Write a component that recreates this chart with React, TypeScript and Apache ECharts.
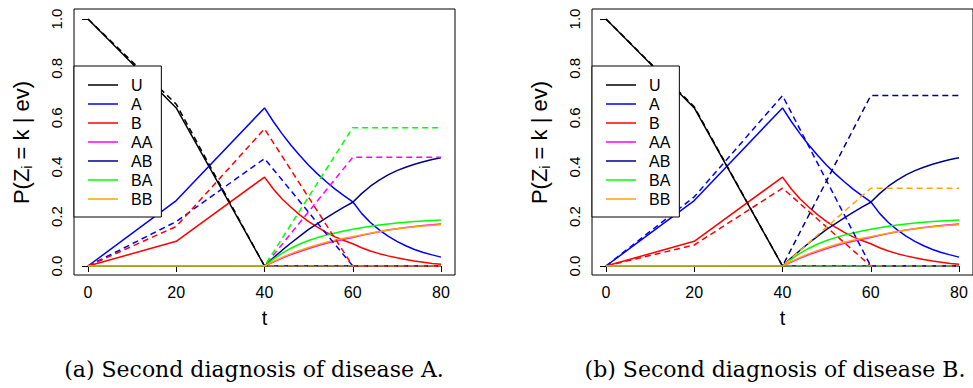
import React, { useEffect, useRef } from "react";
import * as echarts from "echarts";

// ---- data ----
const stateNames = ["U", "A", "B", "AA", "AB", "BA", "BB"];
const stateColors = ["#000000", "#0000FF", "#FF0000", "#FF00FF", "#00008B", "#00FF00", "#FFA500"];

// time grid for the solid (observed) curves
const tSolid = [0, 20, 40, 42, 44, 46, 48, 50, 52, 54, 56, 58, 60, 62, 64, 66, 68, 70, 72, 74, 76, 78, 80];
const solidU = [1, 0.64, 0, 0, 0, 0, 0, 0, 0, 0, 0, 0, 0, 0, 0, 0, 0, 0, 0, 0, 0, 0, 0];
const solidA = [0, 0.265, 0.64, 0.585, 0.535, 0.489, 0.447, 0.408, 0.373, 0.341, 0.311, 0.285, 0.26, 0.213, 0.176, 0.146, 0.121, 0.1, 0.082, 0.067, 0.055, 0.045, 0.036];
const solidB = [0, 0.1, 0.36, 0.312, 0.271, 0.238, 0.207, 0.18, 0.157, 0.136, 0.118, 0.103, 0.09, 0.074, 0.061, 0.05, 0.041, 0.033, 0.026, 0.02, 0.015, 0.01, 0.007];
const solidAA = [0, 0, 0, 0.016, 0.032, 0.046, 0.059, 0.071, 0.082, 0.092, 0.1, 0.108, 0.115, 0.124, 0.132, 0.139, 0.146, 0.151, 0.156, 0.16, 0.164, 0.167, 0.17];
const solidAB = [0, 0, 0, 0.033, 0.064, 0.093, 0.121, 0.148, 0.172, 0.195, 0.217, 0.238, 0.258, 0.293, 0.323, 0.348, 0.369, 0.386, 0.4, 0.412, 0.422, 0.431, 0.438];
const solidBA = [0, 0, 0, 0.028, 0.052, 0.072, 0.089, 0.103, 0.115, 0.125, 0.134, 0.142, 0.149, 0.155, 0.161, 0.166, 0.17, 0.174, 0.177, 0.18, 0.182, 0.184, 0.186];
const solidBB = [0, 0, 0, 0.018, 0.035, 0.05, 0.063, 0.075, 0.086, 0.096, 0.104, 0.112, 0.118, 0.126, 0.133, 0.14, 0.146, 0.151, 0.155, 0.159, 0.162, 0.165, 0.167];
const solidAll = [solidU, solidA, solidB, solidAA, solidAB, solidBA, solidBB];

// time grid for the dashed (predicted) curves
const tDash = [0, 20, 40, 60, 80];
// panel (a): second diagnosis of disease A
const dashA_U = [1, 0.655, 0, 0, 0];
const dashA_A = [0, 0.18, 0.435, 0, 0];
const dashA_B = [0, 0.16, 0.555, 0, 0];
const dashA_AA = [0, 0, 0, 0.44, 0.44];
const dashA_AB = [0, 0, 0, 0, 0];
const dashA_BA = [0, 0, 0, 0.56, 0.56];
const dashA_BB = [0, 0, 0, 0, 0];
const dashPanelA = [dashA_U, dashA_A, dashA_B, dashA_AA, dashA_AB, dashA_BA, dashA_BB];
// panel (b): second diagnosis of disease B
const dashB_U = [1, 0.645, 0, 0, 0];
const dashB_A = [0, 0.28, 0.69, 0, 0];
const dashB_B = [0, 0.085, 0.315, 0, 0];
const dashB_AA = [0, 0, 0, 0, 0];
const dashB_AB = [0, 0, 0, 0.69, 0.69];
const dashB_BA = [0, 0, 0, 0, 0];
const dashB_BB = [0, 0, 0, 0.315, 0.315];
const dashPanelB = [dashB_U, dashB_A, dashB_B, dashB_AA, dashB_AB, dashB_BA, dashB_BB];

const xTicks = [0, 20, 40, 60, 80];
const yTicks = [0, 0.2, 0.4, 0.6, 0.8, 1.0];
const captions = ["(a) Second diagnosis of disease A.", "(b) Second diagnosis of disease B."];
const xTitle = "t";

const SANS = "Liberation Sans, Arial, sans-serif";
const SERIF = "DejaVu Serif, Liberation Serif, serif";

export default function App() {
  const ref = useRef<HTMLDivElement>(null);
  useEffect(() => {
    if (!ref.current) return;
    const chart = echarts.init(ref.current, null, { renderer: "svg" });

    const panels = [
      { boxLeft: 74, dataLeft: 88, dash: dashPanelA },
      { boxLeft: 592, dataLeft: 606, dash: dashPanelB },
    ];
    const boxTop = 9, boxH = 266, boxW = 381;
    const dataTop = 19, dataH = 247, dataW = 353;

    const grid: any[] = [];
    const xAxis: any[] = [];
    const yAxis: any[] = [];
    const series: any[] = [];
    const legend: any[] = [];

    panels.forEach((p, pi) => {
      // box grid
      grid.push({ left: p.boxLeft, top: boxTop, width: boxW, height: boxH, show: true, borderColor: "#000", borderWidth: 1, backgroundColor: "transparent" });
      xAxis.push({ gridIndex: pi * 2, type: "value", show: false, min: 0, max: 1 });
      yAxis.push({ gridIndex: pi * 2, type: "value", show: false, min: 0, max: 1 });
      // data grid
      grid.push({ left: p.dataLeft, top: dataTop, width: dataW, height: dataH, show: false });
      xAxis.push({
        gridIndex: pi * 2 + 1, type: "value", min: xTicks[0], max: xTicks[xTicks.length - 1], interval: 20,
        position: "bottom", offset: 9,
        axisLine: { show: false }, splitLine: { show: false },
        axisTick: { show: true, length: 6, lineStyle: { color: "#000", width: 1 } },
        axisLabel: { color: "#000", fontFamily: SANS, fontSize: 16, margin: 9 },
        name: xTitle, nameLocation: "middle", nameGap: 33,
        nameTextStyle: { color: "#000", fontFamily: SANS, fontSize: 20 },
      });
      yAxis.push({
        gridIndex: pi * 2 + 1, type: "value", min: yTicks[0], max: yTicks[yTicks.length - 1], interval: 0.2,
        position: "left", offset: 14,
        axisLine: { show: false }, splitLine: { show: false },
        axisTick: { show: true, length: 6, lineStyle: { color: "#000", width: 1 } },
        axisLabel: { color: "#000", fontFamily: SANS, fontSize: 15, rotate: 90, margin: 10, formatter: (v: number) => v.toFixed(1) },
        name: "P(Z{sub|i} = k | ev)", nameLocation: "middle", nameGap: 40, nameRotate: 90,
        nameTextStyle: {
          color: "#000", fontFamily: SANS, fontSize: 22,
          rich: { sub: { fontFamily: SANS, fontSize: 14, color: "#000", padding: [12, 0, 0, 0] } },
        },
      });
      const xi = pi * 2 + 1;
      stateNames.forEach((n, k) => {
        series.push({
          name: n, type: "line", xAxisIndex: xi, yAxisIndex: xi, symbol: "none", silent: true,
          lineStyle: { color: stateColors[k], width: 1.5, type: "solid" }, itemStyle: { color: stateColors[k] },
          data: tSolid.map((t, i) => [t, solidAll[k][i]]),
        });
      });
      stateNames.forEach((n, k) => {
        series.push({
          name: n + " predicted", type: "line", xAxisIndex: xi, yAxisIndex: xi, symbol: "none", silent: true,
          lineStyle: { color: stateColors[k], width: 1.5, type: [6, 4] }, itemStyle: { color: stateColors[k] },
          data: tDash.map((t, i) => [t, p.dash[k][i]]),
        });
      });
      legend.push({
        data: stateNames, orient: "vertical", left: p.boxLeft, top: 66,
        icon: "path://M0,0 L40,0 L40,2 L0,2 Z",
        padding: [11, 9, 10, 14], itemGap: 3, itemWidth: 30, itemHeight: 14,
        backgroundColor: "#fff", borderColor: "#000", borderWidth: 1, borderRadius: 0,
        textStyle: { color: "#000", fontFamily: SANS, fontSize: 16, padding: [0, 0, 0, 8] },
        selectedMode: false,
      });
    });

    chart.setOption({
      animation: false,
      backgroundColor: "#fff",
      title: [
        { text: captions[0], left: 249, top: 353, textAlign: "center", textStyle: { fontFamily: SERIF, fontSize: 22, fontWeight: "normal", color: "#000" } },
        { text: captions[1], left: 770, top: 353, textAlign: "center", textStyle: { fontFamily: SERIF, fontSize: 22, fontWeight: "normal", color: "#000" } },
      ],
      grid, xAxis, yAxis, series, legend,
    });
    return () => chart.dispose();
  }, []);
  return <div ref={ref} style={{ position: "absolute", left: 0, top: 0, width: 973, height: 388 }} />;
}
